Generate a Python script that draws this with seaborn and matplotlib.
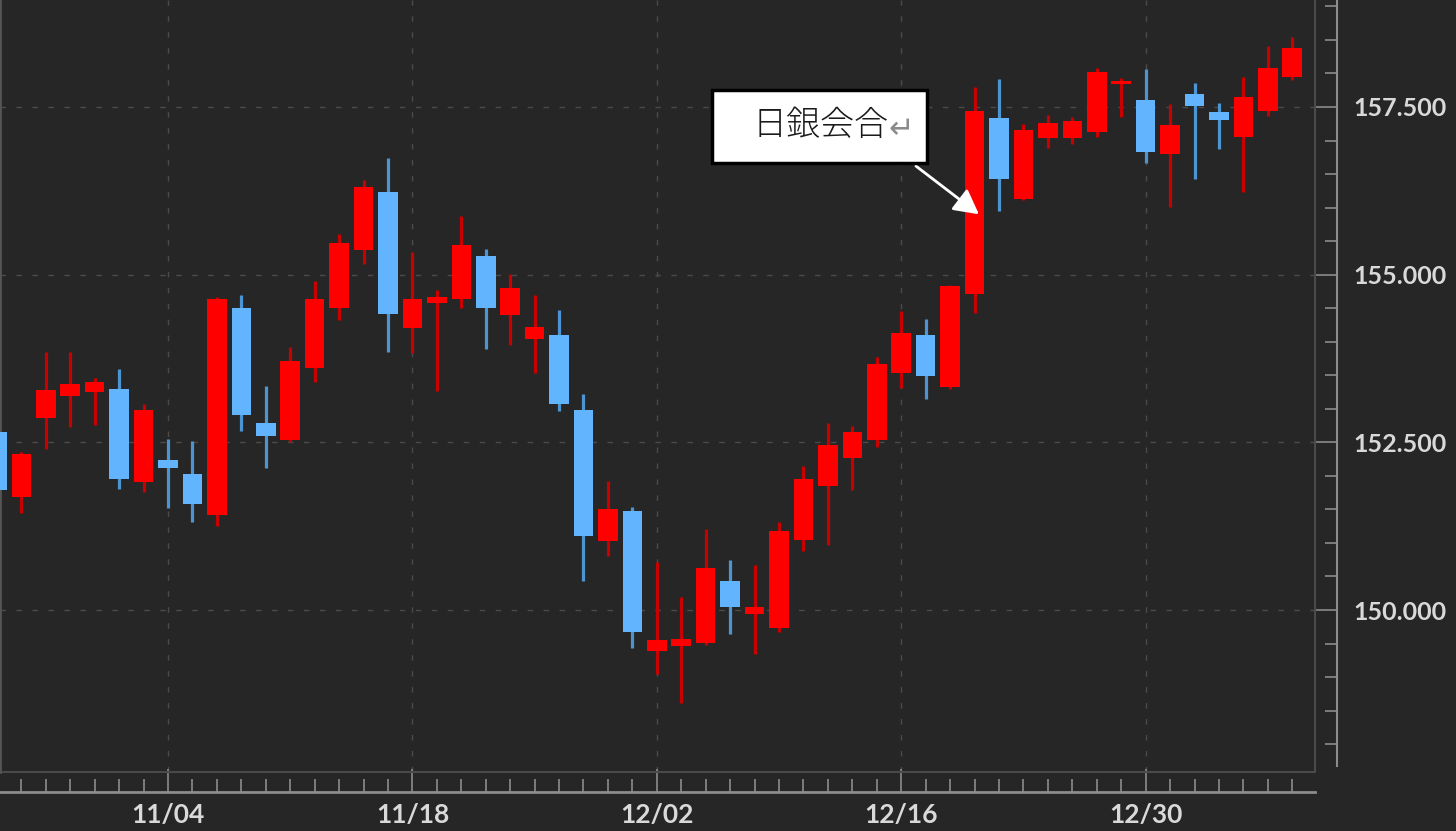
"""
USD/JPY 日足ローソク足 (2024/10/24 - 2025/01/07) — 日銀会合の注記つき
"""

import numpy as np
import pandas as pd
import matplotlib
matplotlib.use("Agg")
import matplotlib.pyplot as plt
import seaborn as sns
from matplotlib.patches import Rectangle
from matplotlib.ticker import FixedLocator, MultipleLocator, FuncFormatter

# --- data ---
dates = [
    "10/24", "10/25", "10/28", "10/29", "10/30", "10/31", "11/01",
    "11/04", "11/05", "11/06", "11/07", "11/08",
    "11/11", "11/12", "11/13", "11/14", "11/15",
    "11/18", "11/19", "11/20", "11/21", "11/22",
    "11/25", "11/26", "11/27", "11/28", "11/29",
    "12/02", "12/03", "12/04", "12/05", "12/06",
    "12/09", "12/10", "12/11", "12/12", "12/13",
    "12/16", "12/17", "12/18", "12/19", "12/20",
    "12/23", "12/24", "12/25", "12/26", "12/27",
    "12/30", "12/31", "01/01", "01/02", "01/03",
    "01/06", "01/07",
]
opens = [
    152.65, 151.68, 152.86, 153.19, 153.25, 153.30, 151.91,
    152.24, 152.03, 151.42, 154.50, 152.79,
    152.53, 153.61, 154.50, 155.37, 156.23,
    154.20, 154.58, 154.64, 155.28, 154.40,
    154.04, 154.10, 152.98, 151.03, 151.48,
    149.39, 149.46, 149.51, 150.43, 149.94,
    149.73, 151.04, 151.85, 152.27, 152.53,
    153.53, 154.10, 153.32, 154.71, 157.34,
    156.13, 157.04, 157.04, 157.13, 157.84,
    157.60, 156.80, 157.69, 157.43, 157.05,
    157.44, 157.95,
]
highs = [
    152.70, 152.35, 153.85, 153.85, 153.46, 153.59, 153.07,
    152.55, 152.52, 154.67, 154.70, 153.34,
    153.92, 154.91, 155.61, 156.41, 156.74,
    155.34, 154.77, 155.87, 155.38, 155.01,
    154.70, 154.47, 153.22, 151.92, 151.54,
    150.72, 150.19, 151.21, 150.75, 150.67,
    151.31, 152.15, 152.79, 152.74, 153.77,
    154.46, 154.34, 154.85, 157.80, 157.92,
    157.25, 157.38, 157.35, 158.08, 157.93,
    158.07, 157.54, 157.86, 157.56, 157.95,
    158.41, 158.54,
]
lows = [
    151.75, 151.45, 152.40, 152.73, 152.76, 151.80, 151.76,
    151.52, 151.31, 151.25, 152.67, 152.12,
    152.50, 153.40, 154.32, 155.16, 153.85,
    153.83, 153.27, 154.50, 153.89, 153.95,
    153.53, 152.97, 150.43, 150.81, 149.43,
    149.05, 148.61, 149.48, 149.64, 149.34,
    149.67, 150.88, 150.97, 151.79, 152.43,
    153.31, 153.15, 153.30, 154.43, 155.95,
    156.11, 156.89, 156.95, 157.05, 157.35,
    156.66, 156.01, 156.43, 156.87, 156.23,
    157.37, 157.90,
]
closes = [
    151.79, 152.33, 153.28, 153.37, 153.40, 151.95, 152.98,
    152.12, 151.58, 154.64, 152.91, 152.59,
    153.71, 154.64, 155.47, 156.31, 154.41,
    154.64, 154.67, 155.44, 154.50, 154.80,
    154.22, 153.07, 151.10, 151.51, 149.67,
    149.55, 149.57, 150.63, 150.04, 150.04,
    151.18, 151.95, 152.46, 152.65, 153.67,
    154.13, 153.49, 154.83, 157.44, 156.43,
    157.16, 157.26, 157.29, 158.02, 157.89,
    156.83, 157.23, 157.51, 157.31, 157.65,
    158.08, 158.38,
]
label_dates = ["11/04", "11/18", "12/02", "12/16", "12/30"]
y_major = [150.0, 152.5, 155.0, 157.5]
note_text = "日銀会合"
note_date = "12/19"

df = pd.DataFrame({"date": dates, "open": opens, "high": highs,
                   "low": lows, "close": closes})
df["x"] = np.arange(len(df))
df["up"] = df["close"] >= df["open"]
df["bottom"] = df[["open", "close"]].min(axis=1)
df["height"] = (df["close"] - df["open"]).abs()

BG = "#262626"
UP_BODY, UP_WICK = "#ff0000", "#c80000"
DN_BODY, DN_WICK = "#62b4ff", "#4d95d2"
AXIS_C = "#8c8c8c"
LABEL_C = "#d9d9d9"

sns.set_theme(style="dark", rc={
    "figure.facecolor": BG,
    "axes.facecolor": BG,
    "savefig.facecolor": BG,
})
plt.rcParams["font.family"] = ["Lato", "DejaVu Sans"]

fig = plt.figure(figsize=(14.56, 8.31), dpi=100)
ax = fig.add_axes([0, 59 / 831, 1315 / 1456, 772 / 831])

# wicks
ax.vlines(df["x"], df["low"], df["high"],
          colors=np.where(df["up"], UP_WICK, DN_WICK), lw=2.3, zorder=2)
# bodies
ax.bar(df["x"], df["height"], bottom=df["bottom"], width=0.8,
       color=np.where(df["up"], UP_BODY, DN_BODY), linewidth=0, zorder=3)

ax.set_xlim(0.126, 53.93)
ax.set_ylim(147.585, 159.095)

# grid
ax.grid(True, which="major", axis="both", color="#4a4a4a",
        linestyle=(0, (4, 7.5)), lw=1.0, zorder=0)

# spines
ax.spines["top"].set_visible(False)
ax.spines["left"].set_color("#555555")
ax.spines["left"].set_linewidth(2)
ax.spines["right"].set_position(("outward", 15.8))
ax.spines["right"].set_color(AXIS_C)
ax.spines["right"].set_linewidth(1.5)
ax.spines["right"].set_bounds(147.67, 159.095)
ax.spines["bottom"].set_position(("outward", 14.4))
ax.spines["bottom"].set_color(AXIS_C)
ax.spines["bottom"].set_linewidth(2)

# plot frame (right / bottom)
ax.plot([1, 1], [0, 1], transform=ax.transAxes, color="#4a4a4a",
        lw=1.5, clip_on=False, zorder=1)
ax.plot([0, 1], [0, 0], transform=ax.transAxes, color="#4a4a4a",
        lw=1.5, clip_on=False, zorder=1)

# y axis on the right
ax.yaxis.tick_right()
ax.yaxis.set_major_locator(FixedLocator(y_major))
ax.yaxis.set_minor_locator(MultipleLocator(0.5))
ax.yaxis.set_major_formatter(FuncFormatter(lambda v, p: f"{v:.3f}"))
ax.tick_params(axis="y", which="major", direction="in", length=15.8,
               width=1.2, color=AXIS_C, labelcolor=LABEL_C,
               labelsize=18, pad=12, left=False, right=True)
ax.tick_params(axis="y", which="minor", direction="in", length=8.6,
               width=1.2, color=AXIS_C, left=False, right=True)

# x axis
pos = {d: i for i, d in enumerate(dates)}
ax.xaxis.set_major_locator(FixedLocator([pos[d] for d in label_dates]))
ax.xaxis.set_major_formatter(FuncFormatter(lambda v, p: dates[int(round(v))]))
ax.xaxis.set_minor_locator(FixedLocator(df["x"].tolist()))
ax.tick_params(axis="x", which="major", direction="in", length=16.6,
               width=1.2, color=AXIS_C, labelcolor=LABEL_C,
               labelsize=19, pad=8, bottom=True)
ax.tick_params(axis="x", which="minor", direction="in", length=9.4,
               width=1.2, color=AXIS_C, bottom=True)
for lab in ax.get_xticklabels() + ax.get_yticklabels():
    lab.set_fontweight("bold")

# annotation: BOJ meeting
nx = pos[note_date]
ax.annotate("", xy=(nx + 0.18, 155.90), xytext=(nx - 2.4, 156.62),
            arrowprops=dict(arrowstyle="-|>,head_length=0.75,head_width=0.4",
                            color="white", lw=2, mutation_scale=20,
                            shrinkA=0, shrinkB=0),
            zorder=6)
ax.add_patch(Rectangle((nx - 10.74, 156.665), 8.8, 1.088,
                       facecolor="white", edgecolor="black", lw=2.5,
                       zorder=7))
ax.text(nx - 9.1, 157.23, note_text, fontsize=24.5, fontweight="light",
        family=["Noto Sans CJK JP", "DejaVu Sans"], color="#1a1a1a",
        ha="left", va="center", zorder=8)
ax.text(nx - 3.5, 157.17, "\u21b5", fontsize=22, family=["DejaVu Sans"],
        color="#8a8a8a", ha="left", va="center", zorder=8)

fig.savefig("out.png", dpi=100, facecolor=BG)
